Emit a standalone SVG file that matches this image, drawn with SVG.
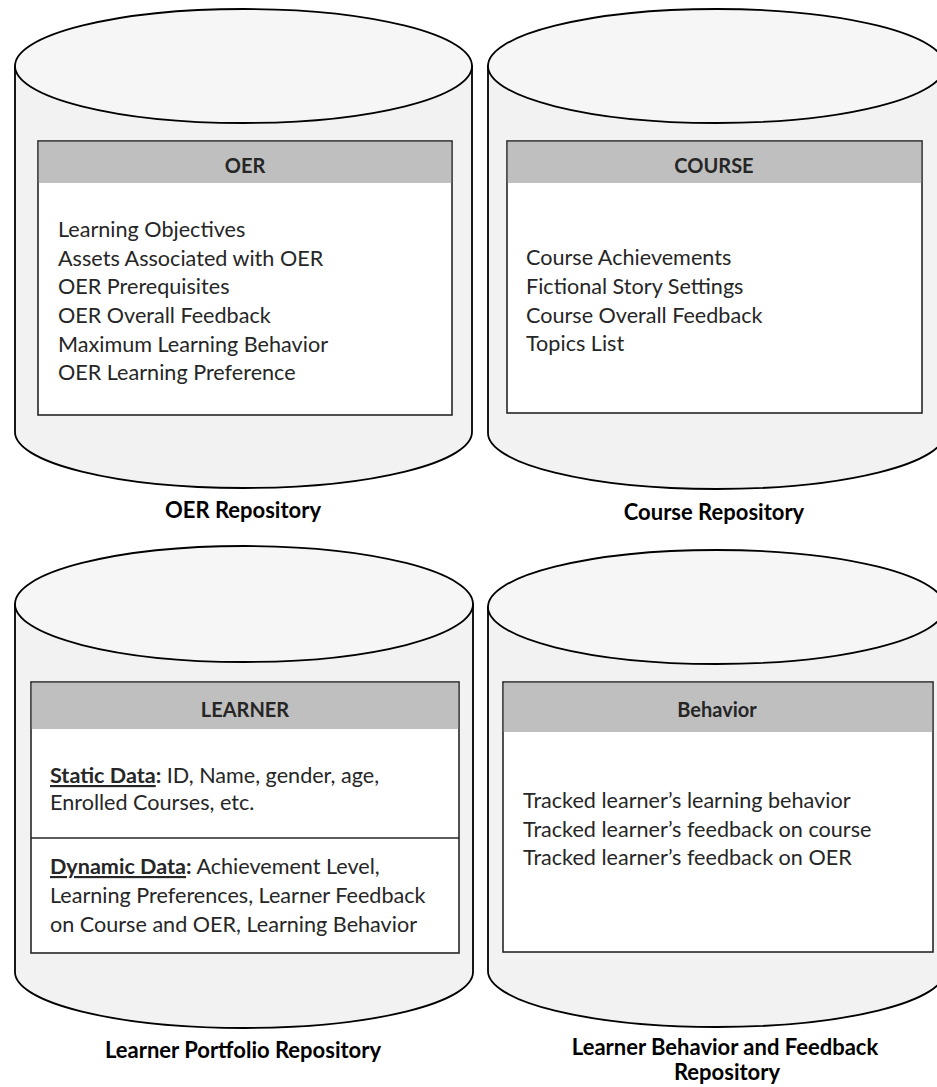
<svg xmlns="http://www.w3.org/2000/svg" width="937" height="1087" viewBox="0 0 937 1087">
<style>
.body{fill:#f2f2f2;stroke:#000;stroke-width:1.8}
.top{fill:#f6f6f6;stroke:#000;stroke-width:1.8}
.box{fill:#fff;stroke:#262626;stroke-width:1.6}
.hdr{fill:#bfbfbf}
.div{stroke:#262626;stroke-width:1.6}
.t{font-family:Lato,"Open Sans",sans-serif;font-size:21.6px;fill:#262626}
.h{font-family:Lato,"Open Sans",sans-serif;font-size:20px;font-weight:bold;fill:#262626;text-anchor:middle}
.lbl{font-family:Lato,"Open Sans",sans-serif;font-size:22px;font-weight:bold;fill:#000;text-anchor:middle}
.b{font-weight:bold}
</style>
<g id="connectors"/>
<g id="oer">
<path class="body" d="M15,66 L15,432 A228.5,56 0 0 0 472,432 L472,66 Z"/>
<ellipse class="top" cx="243.5" cy="66" rx="228.5" ry="57"/>
<rect class="box" x="38" y="141" width="414" height="274"/>
<rect class="hdr" x="38.8" y="141.8" width="412.4" height="41.2"/>
<text class="h" x="245" y="173">OER</text>
<text class="t" x="58" y="237">Learning Objectives</text>
<text class="t" x="58" y="266">Assets Associated with OER</text>
<text class="t" x="58" y="294">OER Prerequisites</text>
<text class="t" x="58" y="323">OER Overall Feedback</text>
<text class="t" x="58" y="352">Maximum Learning Behavior</text>
<text class="t" x="58" y="380">OER Learning Preference</text>
<text class="lbl" x="243" y="518">OER Repository</text>
</g>
<g id="course">
<path class="body" d="M488,66 L488,433 A228.5,56 0 0 0 945,433 L945,66 Z"/>
<ellipse class="top" cx="716.5" cy="66" rx="228.5" ry="57"/>
<rect class="box" x="507" y="141" width="415" height="272"/>
<rect class="hdr" x="507.8" y="141.8" width="413.4" height="41.2"/>
<text class="h" x="714" y="173">COURSE</text>
<text class="t" x="526" y="265">Course Achievements</text>
<text class="t" x="526" y="294">Fictional Story Settings</text>
<text class="t" x="526" y="323">Course Overall Feedback</text>
<text class="t" x="526" y="351">Topics List</text>
<text class="lbl" x="714" y="520">Course Repository</text>
</g>
<g id="learner">
<path class="body" d="M15,604 L15,972 A229,56 0 0 0 473,972 L473,604 Z"/>
<ellipse class="top" cx="244" cy="604" rx="229" ry="58"/>
<rect class="box" x="31" y="682" width="428" height="271"/>
<rect class="hdr" x="31.8" y="682.8" width="426.4" height="46.2"/>
<line class="div" x1="31" y1="838" x2="459" y2="838"/>
<text class="h" x="245" y="717">LEARNER</text>
<text class="t" x="50" y="783"><tspan class="b" text-decoration="underline">Static Data</tspan><tspan class="b">:</tspan> ID, Name, gender, age,</text>
<text class="t" x="50" y="810">Enrolled Courses, etc.</text>
<text class="t" x="50" y="874"><tspan class="b" text-decoration="underline">Dynamic Data</tspan><tspan class="b">:</tspan> Achievement Level,</text>
<text class="t" x="50" y="903">Learning Preferences, Learner Feedback</text>
<text class="t" x="50" y="932">on Course and OER, Learning Behavior</text>
<text class="lbl" x="243" y="1058">Learner Portfolio Repository</text>
</g>
<g id="behavior">
<path class="body" d="M488,607 L488,971 A228.5,56 0 0 0 945,971 L945,607 Z"/>
<ellipse class="top" cx="716.5" cy="607" rx="228.5" ry="57"/>
<rect class="box" x="503" y="682" width="430" height="270"/>
<rect class="hdr" x="503.8" y="682.8" width="428.4" height="49.2"/>
<text class="h" x="717" y="717">Behavior</text>
<text class="t" x="523" y="808">Tracked learner’s learning behavior</text>
<text class="t" x="523" y="837">Tracked learner’s feedback on course</text>
<text class="t" x="523" y="865">Tracked learner’s feedback on OER</text>
<text class="lbl" x="725" y="1055">Learner Behavior and Feedback</text>
<text class="lbl" x="727" y="1080">Repository</text>
</g>
</svg>
